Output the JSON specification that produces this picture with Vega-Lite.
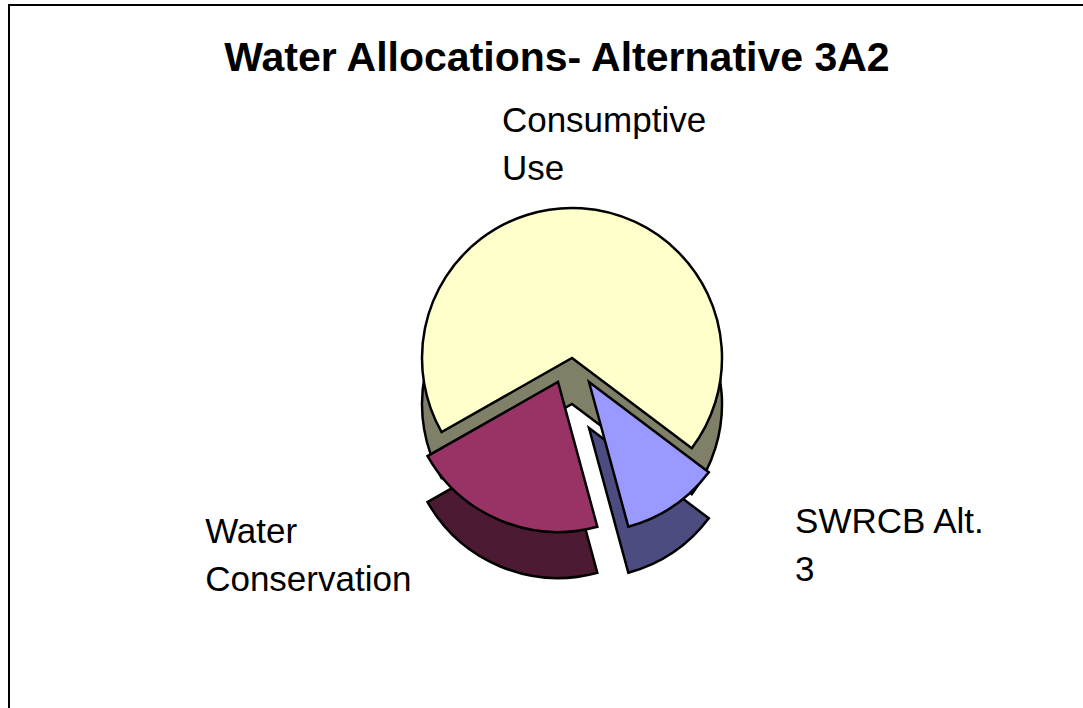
{
  "$schema": "https://vega.github.io/schema/vega-lite/v6.json",
  "width": 1126,
  "height": 706,
  "autosize": {"type": "none"},
  "padding": {"left": 9, "top": 5, "right": -52, "bottom": -3},
  "background": "white",
  "view": {"stroke": "black", "strokeWidth": 2, "fill": "white"},
  "config": {"view": {"stroke": "black", "strokeWidth": 2}, "font": "Liberation Sans"},
  "title": {
    "text": "Water Allocations- Alternative 3A2",
    "fontSize": 41,
    "fontWeight": "bold",
    "font": "Liberation Sans",
    "color": "black",
    "anchor": "middle",
    "frame": "group",
    "offset": -67,
    "baseline": "alphabetic",
    "dx": -15,
    "dy": 40
  },
  "data": {
    "values": [
      {"category": "SWRCB Alt. 3", "label": "SWRCB Alt.\n3", "share": 10.5, "order": 1},
      {"category": "Water Conservation", "label": "Water\nConservation", "share": 21, "order": 2},
      {"category": "Consumptive Use", "label": "Consumptive\nUse", "share": 68.5, "order": 3}
    ]
  },
  "encoding": {
    "theta": {"field": "share", "type": "quantitative", "stack": true, "scale": {"range": [2.2166, 8.4998]}},
    "order": {"field": "order", "type": "quantitative"}
  },
  "layer": [
    {
      "mark": {
        "type": "arc",
        "outerRadius": 150,
        "stroke": "black",
        "strokeWidth": 2.5,
        "xOffset": {"expr": "datum.order == 1 ? 17 : datum.order == 2 ? -14 : 0"},
        "yOffset": {"expr": "datum.order == 3 ? 46 : 46 + 24"}
      },
      "encoding": {
        "color": {
          "field": "category",
          "type": "nominal",
          "scale": {"domain": ["Consumptive Use", "Water Conservation", "SWRCB Alt. 3"], "range": ["#808068", "#4C1A33", "#4C4C80"]},
          "legend": null
        }
      }
    },
    {
      "mark": {
        "type": "arc",
        "outerRadius": 150,
        "stroke": "black",
        "strokeWidth": 2.5,
        "xOffset": {"expr": "datum.order == 1 ? 17 : datum.order == 2 ? -14 : 0"},
        "yOffset": {"expr": "datum.order == 3 ? 0 : 24"}
      },
      "encoding": {
        "fill": {
          "field": "category",
          "type": "nominal",
          "scale": {"domain": ["Consumptive Use", "Water Conservation", "SWRCB Alt. 3"], "range": ["#FFFFCC", "#993366", "#9999FF"]},
          "legend": null
        }
      }
    },
    {
      "mark": {
        "type": "text",
        "radius": 200,
        "fontSize": 35,
        "font": "Liberation Sans",
        "color": "black",
        "align": "left",
        "baseline": "alphabetic",
        "lineBreak": "\n",
        "lineHeight": 48,
        "dx": {"expr": "datum.order == 1 ? 111 : datum.order == 2 ? -290 : -83"},
        "dy": {"expr": "datum.order == 1 ? 9 : datum.order == 2 ? 0 : -26"}
      },
      "encoding": {"text": {"field": "label", "type": "nominal"}}
    }
  ],
  "resolve": {"scale": {"color": "independent", "fill": "independent"}}
}
